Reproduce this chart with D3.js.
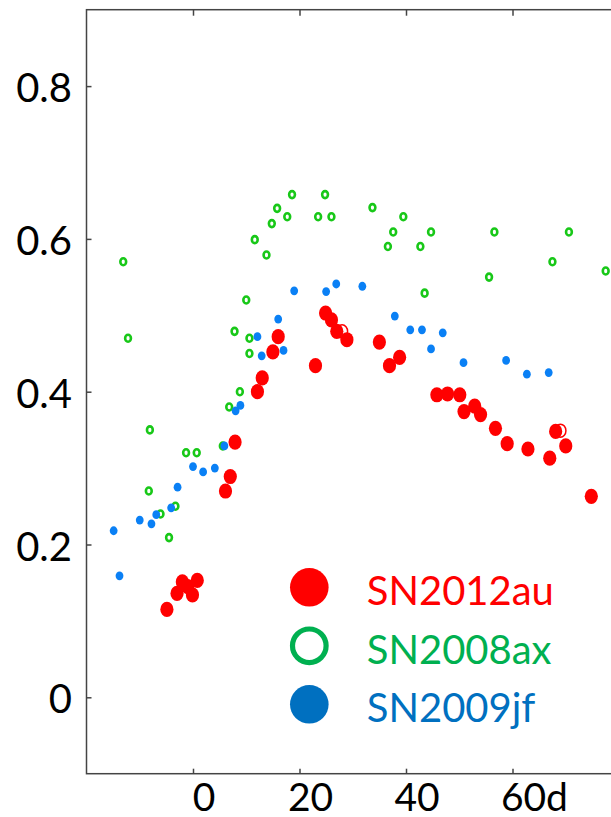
<!DOCTYPE html>
<html>
<head>
<meta charset="utf-8">
<script src="https://cdn.jsdelivr.net/npm/d3@7"></script>
<style>
  body { margin: 0; background: #fff; }
  svg { display: block; font-family: Lato, "Open Sans", sans-serif; }
</style>
</head>
<body>
<div id="chart"></div>
<script>
// day, value
let sn2012au = [
  [-4.9,0.115],[-3.0,0.136],[-2.0,0.151],[-1.0,0.145],[-0.1,0.134],[0.8,0.153],
  [6.1,0.270],[7.0,0.289],[7.9,0.334],[12.1,0.400],[13.0,0.418],[15.0,0.452],[16.0,0.472],
  [23.0,0.434],[24.9,0.503],[26.0,0.494],[27.0,0.479],[28.9,0.468],
  [35.0,0.465],[36.9,0.434],[38.8,0.445],[45.8,0.396],[47.8,0.397],[50.1,0.396],
  [50.9,0.374],[52.9,0.381],[54.0,0.370],[56.8,0.352],[59.0,0.332],[62.9,0.325],
  [67.0,0.313],[68.1,0.348],[70.0,0.329],[74.8,0.263]
];
let sn2012auOpen = [[28.0,0.479],[69.0,0.349]];

let sn2008ax = [
  [-13.1,0.570],[-12.2,0.470],[-8.1,0.350],[-8.3,0.270],[-6.1,0.240],[-4.5,0.209],[-3.3,0.250],
  [-1.3,0.320],[0.7,0.320],[5.6,0.329],[6.8,0.380],[7.8,0.479],[8.8,0.400],[10.0,0.520],
  [10.6,0.470],[10.6,0.450],[11.6,0.599],[13.8,0.579],[14.8,0.620],[15.8,0.640],[17.7,0.629],
  [18.6,0.658],[23.5,0.629],[24.8,0.658],[26.0,0.629],[33.7,0.641],[36.6,0.590],[37.6,0.609],
  [39.5,0.629],[42.7,0.590],[43.5,0.529],[44.7,0.609],[55.6,0.550],[56.6,0.609],
  [67.5,0.570],[70.6,0.609],[77.5,0.558]
];

let sn2009jf = [
  [-14.9,0.218],[-13.8,0.159],[-10.0,0.232],[-7.8,0.227],[-6.9,0.239],[-4.1,0.248],[-2.9,0.275],
  [0.0,0.302],[1.9,0.295],[4.1,0.300],[5.9,0.329],[8.0,0.375],[8.9,0.382],[12.1,0.472],
  [12.9,0.447],[16.0,0.495],[17.0,0.454],[19.0,0.532],[25.0,0.531],[26.9,0.541],[31.8,0.538],
  [37.9,0.499],[40.8,0.481],[43.0,0.481],[44.7,0.456],[46.9,0.477],[50.8,0.438],[58.8,0.441],
  [62.7,0.423],[66.8,0.425]
];

let xTicks = [0, 20, 40, 60];
let xTickLabels = ["0", "20", "40", "60d"];
let yTicks = [0, 0.2, 0.4, 0.6, 0.8];
let legendNames = ["SN2012au", "SN2008ax", "SN2009jf"];

let width = 611, height = 817;
let svg = d3.select("#chart").append("svg").attr("width", width).attr("height", height);

let x = d3.scaleLinear().domain([-20, 85]).range([86.5, 86.5 + 105 * 5.325]);
let y = d3.scaleLinear().domain([-0.1, 0.9]).range([773.7, 9.7]);

let axisColor = "#444";

// frame
svg.append("rect")
  .attr("x", x(-20)).attr("y", y(0.9))
  .attr("width", x(85) - x(-20)).attr("height", y(-0.1) - y(0.9))
  .attr("fill", "none").attr("stroke", axisColor).attr("stroke-width", 1.5);

// ticks, pointing inward
svg.append("g").attr("transform", "translate(0," + y(-0.1) + ")")
  .call(d3.axisBottom(x).tickValues(xTicks).tickSize(-5).tickFormat(""))
  .call(g => g.select(".domain").remove())
  .selectAll("line").attr("stroke", axisColor).attr("stroke-width", 1.5);

svg.append("g").attr("transform", "translate(0," + y(0.9) + ")")
  .call(d3.axisTop(x).tickValues(xTicks).tickSize(-6).tickFormat(""))
  .call(g => g.select(".domain").remove())
  .selectAll("line").attr("stroke", axisColor).attr("stroke-width", 1.5);

svg.append("g").attr("transform", "translate(" + x(-20) + ",0)")
  .call(d3.axisLeft(y).tickValues(yTicks).tickSize(-5).tickFormat(""))
  .call(g => g.select(".domain").remove())
  .selectAll("line").attr("stroke", axisColor).attr("stroke-width", 1.5);

// tick labels
svg.selectAll(".ylab").data(yTicks).enter().append("text")
  .attr("class", "ylab")
  .attr("x", 72).attr("y", d => y(d) + 16)
  .attr("text-anchor", "end")
  .style("font-size", "40px").attr("fill", "#000")
  .text(d => d === 0 ? "0" : d3.format(".1f")(d));

let xl = svg.selectAll(".xlab").data(xTicks).enter().append("text")
  .attr("class", "xlab")
  .attr("y", 811)
  .style("font-size", "39px").attr("fill", "#000")
  .text((d, i) => xTickLabels[i]);
// labels sit a bit right of their ticks; centre the numeric part
xl.each(function(d, i) {
  let num = String(d);
  let w = this.getSubStringLength(0, num.length);
  d3.select(this).attr("x", x(d) + 11 - w / 2);
});

// points
let plot = svg.append("g");

plot.selectAll(".p08").data(sn2008ax).enter().append("ellipse")
  .attr("cx", d => x(d[0])).attr("cy", d => y(d[1]))
  .attr("rx", 2.9).attr("ry", 3.5)
  .attr("fill", "#fff").attr("stroke", "#18c818").attr("stroke-width", 2.6);

plot.selectAll(".p09").data(sn2009jf).enter().append("ellipse")
  .attr("cx", d => x(d[0])).attr("cy", d => y(d[1]))
  .attr("rx", 3.9).attr("ry", 4.4)
  .attr("fill", "#0a80f5");

plot.selectAll(".p12o").data(sn2012auOpen).enter().append("ellipse")
  .attr("cx", d => x(d[0])).attr("cy", d => y(d[1]))
  .attr("rx", 5.5).attr("ry", 6.5)
  .attr("fill", "#fff").attr("stroke", "#ff0000").attr("stroke-width", 1.5);

plot.selectAll(".p12").data(sn2012au).enter().append("ellipse")
  .attr("cx", d => x(d[0])).attr("cy", d => y(d[1]))
  .attr("rx", 6.6).attr("ry", 7.6)
  .attr("fill", "#ff0000");

// legend
let legendColors = ["#ff0000", "#00b050", "#0070c0"];
let legend = svg.append("g");
legend.selectAll("circle").data(legendNames).enter().append("circle")
  .attr("cx", 309.3).attr("cy", (d, i) => 587.3 + i * 58.5)
  .attr("r", (d, i) => i === 1 ? 16.8 : 19.3)
  .attr("fill", (d, i) => i === 1 ? "#fff" : legendColors[i])
  .attr("stroke", (d, i) => i === 1 ? legendColors[i] : "none")
  .attr("stroke-width", 5.2);

legend.selectAll("text").data(legendNames).enter().append("text")
  .attr("x", 366.7).attr("y", (d, i) => 605 + i * 58.5)
  .style("font-size", "40px")
  .attr("fill", (d, i) => legendColors[i])
  .text(d => d);
</script>
</body>
</html>
